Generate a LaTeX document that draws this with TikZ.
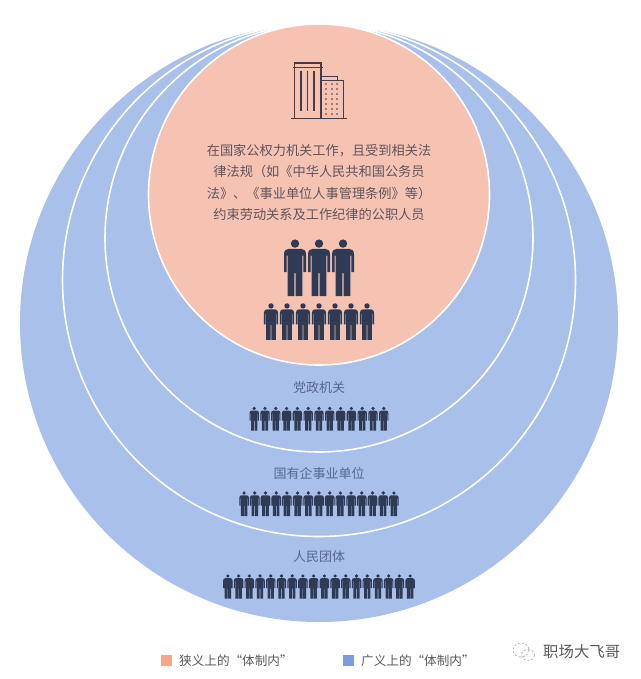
\documentclass[tikz,border=0pt]{standalone}
\usepackage{fontspec}
\setmainfont{Noto Sans CJK SC}
\definecolor{blueFill}{HTML}{A9C0EB}
\definecolor{pinkFill}{HTML}{F6C3B3}
\definecolor{ink}{HTML}{2F3A55}
\definecolor{iconInk}{HTML}{463B48}
\definecolor{paraText}{HTML}{5E5560}
\definecolor{labelText}{HTML}{56688C}
\definecolor{legendText}{HTML}{5A5A5A}
\definecolor{legendPink}{HTML}{F4A58A}
\definecolor{legendBlue}{HTML}{7A9DE0}
\tikzset{
  person/.pic={
    \fill[ink] (0,4.6) circle [radius=4.2];
    \fill[ink]
      (-11,33) -- (-11,15.5) .. controls (-11,11.5) and (-9,9.8) .. (-6,9.8)
      -- (6,9.8) .. controls (9,9.8) and (11,11.5) .. (11,15.5) -- (11,33)
      -- (8.4,33) -- (8.4,16.5) -- (7.4,16.5) -- (7.4,57) -- (.7,57) -- (.7,34)
      -- (-.7,34) -- (-.7,57) -- (-7.4,57) -- (-7.4,16.5) -- (-8.4,16.5)
      -- (-8.4,33) -- cycle;
  },
  ring/.style={fill=#1,draw=white,line width=1.6pt},
  bldg/.style={draw=iconInk,line width=1.4pt},
  para/.style={text=paraText,font=\fontsize{13.2}{21.6}\selectfont,align=center,inner sep=0},
  grouplabel/.style={text=labelText,font=\fontsize{13}{16}\selectfont,inner sep=0},
  legendlabel/.style={text=legendText,font=\fontsize{12.6}{15}\selectfont,anchor=west,inner sep=0},
  swatch/.style={minimum size=10.5pt,inner sep=0}
}
\begin{document}
\begin{tikzpicture}[x=1pt,y=-1pt]
\useasboundingbox (0,0) rectangle (640,679);
\fill[white] (0,0) rectangle (640,679);
% nested circles
\fill[blueFill] (319,323) circle [radius=299];
\path[ring=blueFill] (319,280) circle [radius=256.5];
\path[ring=blueFill] (319,238) circle [radius=214];
\path[ring=pinkFill] (319,194.5) circle [radius=170.5];
% building icon
\draw[bldg] (294.2,118) -- (294.2,63) -- (321,63) -- (321,118);
\draw[bldg] (292.5,67.4) -- (322.5,67.4);
\draw[bldg] (321,80.4) -- (343.2,80.4) -- (343.2,118);
\draw[bldg] (321,76.8) -- (337.6,76.8) -- (337.6,80.4);
\draw[bldg] (291,118.4) -- (347,118.4);
\foreach \lx in {301,307.7,314} \draw[bldg] (\lx,71.5) -- (\lx,111.5);
\foreach \dx in {326,332,337} \foreach \dy in {84,89,94,99,104,109,114}
  \fill[iconInk] (\dx,\dy) circle [radius=.8];
% paragraph
\node[para] (desc) at (319,182.5) {在国家公权力机关工作，且受到相关法\\律法规（如《中华人民共和国公务员\\法》、《事业单位人事管理条例》等）\\约束劳动关系及工作纪律的公职人员};
% big people
\foreach \i in {-1,0,1} \pic[scale=1] at (319+24*\i,239) {person};
\foreach \i in {-3,...,3} \pic[scale=.645] at (319+16*\i,303) {person};
% groups
\node[grouplabel] (party) at (319,388) {党政机关};
\foreach \i in {-6,...,6} \pic[scale=.425] at (319+10.8*\i,406.5) {person};
\node[grouplabel] (state) at (319,474) {国有企事业单位};
\foreach \i in {-7,...,7} \pic[scale=.44] at (319+10.7*\i,491) {person};
\node[grouplabel] (people) at (319,557) {人民团体};
\foreach \i in {-8.5,-7.5,...,8.5} \pic[scale=.43] at (319+10.72*\i,574) {person};
% legend
\node[swatch,fill=legendPink] (swA) at (166.5,660.5) {};
\node[legendlabel] (lgA) at (179,660.5) {狭义上的“体制内”};
\node[swatch,fill=legendBlue] (swB) at (348.5,660.5) {};
\node[legendlabel] (lgB) at (361,660.5) {广义上的“体制内”};
% watermark
\draw[gray!55,line width=.8pt,dash pattern=on 2pt off 2pt] (521,650) ellipse [x radius=8,y radius=7];
\draw[gray!55,line width=.8pt,dash pattern=on 2pt off 2pt] (528,655) ellipse [x radius=6.5,y radius=5.5];
\node[text=legendText,font=\fontsize{15.4}{18}\selectfont,anchor=west,inner sep=0] (mark) at (543,652) {职场大飞哥};
\end{tikzpicture}
\end{document}
